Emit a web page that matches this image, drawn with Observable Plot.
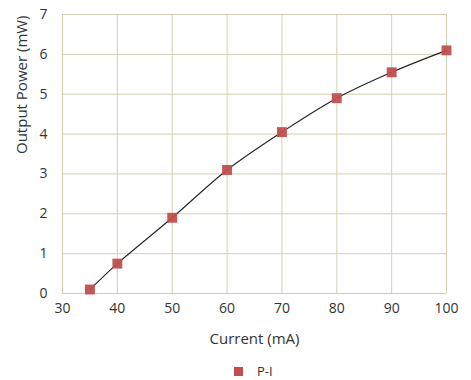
<!DOCTYPE html>
<html><head><meta charset="utf-8">
<script src="https://cdn.jsdelivr.net/npm/d3@7"></script>
<script src="https://cdn.jsdelivr.net/npm/@observablehq/plot@0.6"></script>
<style>
body{margin:0;background:#fff;font-family:"Open Sans",sans-serif;}
#legend{position:relative;height:30px;font-size:13px;color:#333}
#legend span.sw{position:absolute;left:234px;top:9px;width:9px;height:9px;background:#c0504d}
#legend span.lb{position:absolute;left:257px;top:4px}
</style></head>
<body>
<div id="chart"></div>
<div id="legend"><span class="sw"></span><span class="lb">P-I</span></div>
<script>
const current = [35, 40, 50, 60, 70, 80, 90, 100];
const power = [0.1, 0.75, 1.9, 3.1, 4.05, 4.9, 5.55, 6.1];
const xTicks = [30, 40, 50, 60, 70, 80, 90, 100];
const yTicks = [0, 1, 2, 3, 4, 5, 6, 7];
const data = current.map((c, i) => ({c, p: power[i]}));
const chart = Plot.plot({
  width: 471, height: 358,
  marginLeft: 62, marginRight: 25, marginTop: 14, marginBottom: 65,
  style: {fontFamily: "Open Sans, sans-serif", fontSize: "14px", color: "#333"},
  x: {domain: [30, 100], label: null},
  y: {domain: [0, 7], label: null},
  marks: [
    Plot.gridX(xTicks, {stroke: "#d4ceb4", strokeOpacity: 1}),
    Plot.gridY(yTicks, {stroke: "#d4ceb4", strokeOpacity: 1}),
    Plot.axisX({ticks: xTicks, tickSize: 0, tickPadding: 10, fontSize: 14, tickFormat: "d", label: null}),
    Plot.axisY({ticks: yTicks, tickSize: 0, tickPadding: 15, fontSize: 14, tickFormat: "d", label: null}),
    Plot.text(["Current (mA)"], {frameAnchor: "bottom", dy: 50, fontSize: 15, fill: "#333"}),
    Plot.text(["Output Power (mW)"], {frameAnchor: "left", dx: -40, rotate: -90, fontSize: 15, fill: "#333"}),
    Plot.line(data, {x: "c", y: "p", curve: "catmull-rom", stroke: "#222", strokeWidth: 1.1}),
    Plot.dot(data, {x: "c", y: "p", symbol: "square", r: 5.6, fill: "#c0504d", fillOpacity: 0.95, stroke: "none"})
  ]
});
document.getElementById("chart").append(chart);
</script>
</body></html>
